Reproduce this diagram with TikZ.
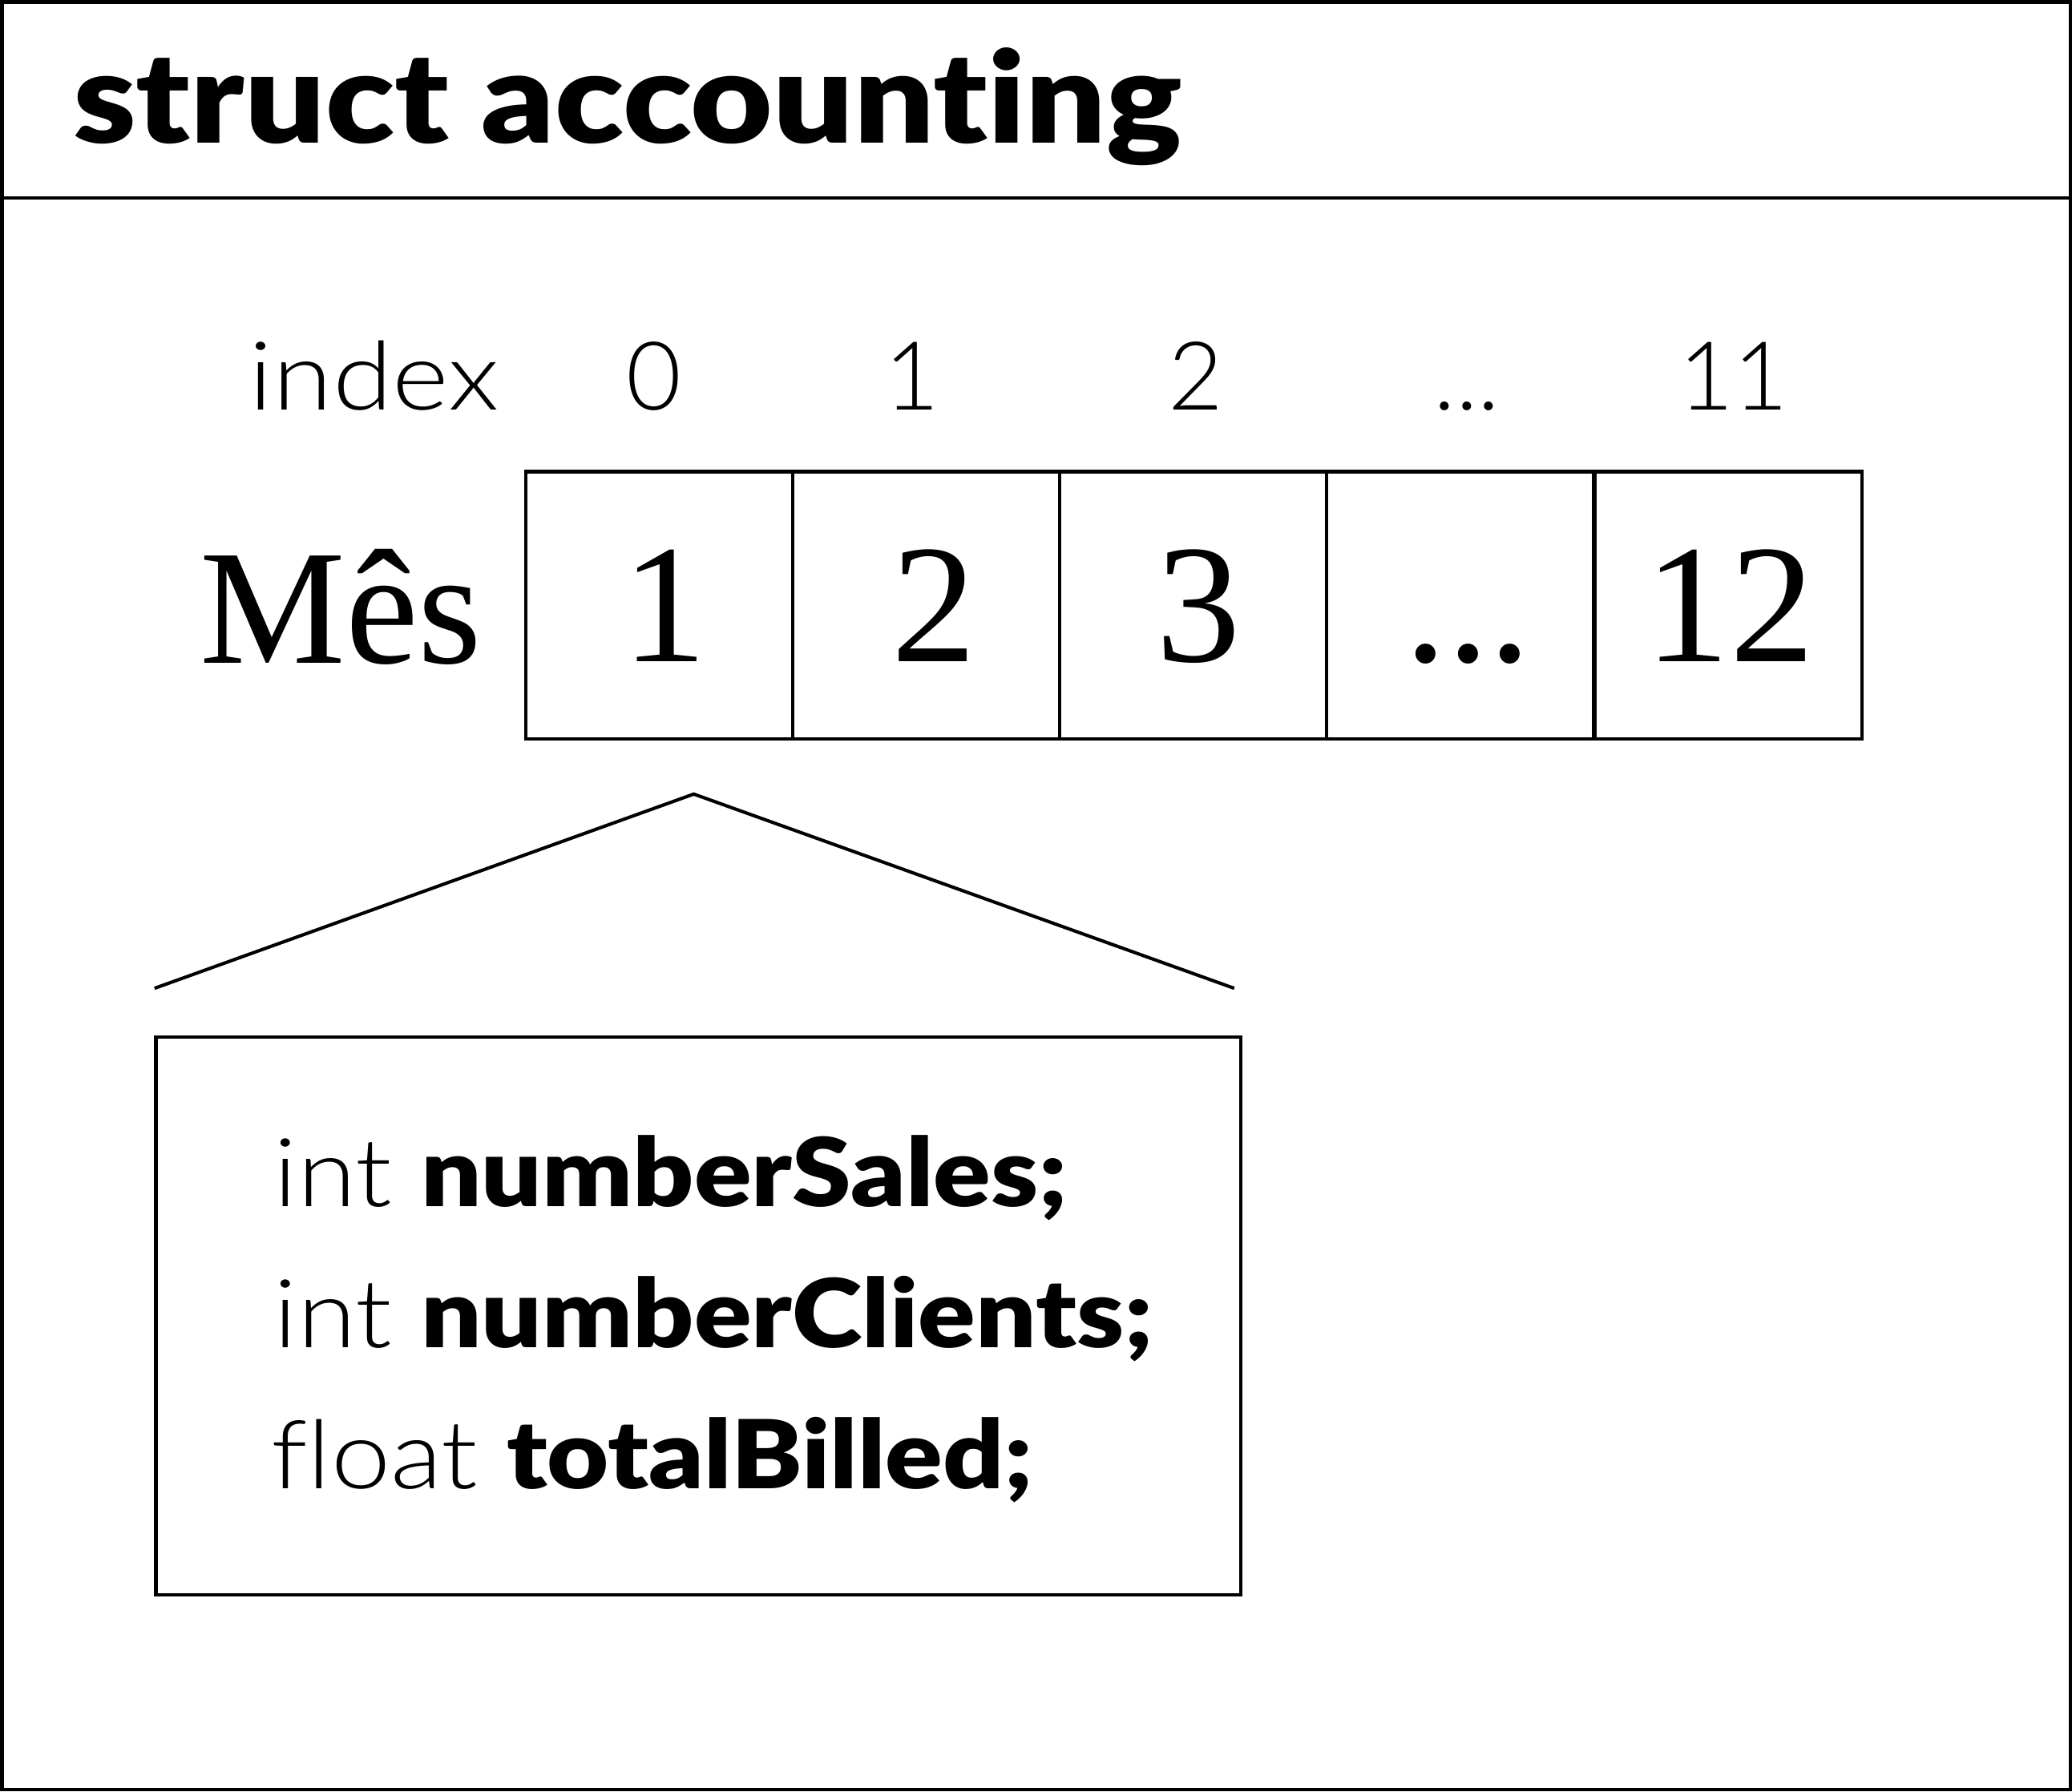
\documentclass[tikz,border=0pt]{standalone}
\usepackage{fontspec}
\setmainfont{Liberation Serif}
\newfontfamily\lightfont{Lato Light}[Ligatures={NoCommon,NoRare,NoContextual}]
\newfontfamily\heavyfont{Lato Black}[Ligatures={NoCommon,NoRare,NoContextual}]
\tikzset{
  frame/.style={draw, line width=2.5pt},
  cell/.style={draw, line width=2.5pt, minimum width=202pt, minimum height=202pt, inner sep=0pt,
    text height=86pt, text depth=0pt, font=\fontsize{128}{140}\selectfont},
  idx/.style={anchor=base, inner sep=0pt, font=\lightfont\fontsize{72}{86}\selectfont},
  member/.style={anchor=base west, inner sep=0pt, font=\lightfont\fontsize{72}{86}\selectfont},
  brace/.style={line width=2.5pt, line join=miter},
}
\begin{document}
\begin{tikzpicture}[x=1pt,y=-1pt]
\useasboundingbox (0,0) rectangle (1568,1356);
% outer frame and header
\draw[frame] (1.5,1.5) rectangle (1566.5,1354.5);
\coordinate (hl) at (0,150);
\coordinate (hr) at (1568,150);
\draw[frame] (hl) -- (hr);
\node[anchor=base west, inner sep=0pt, font=\heavyfont\fontsize{96}{106}\selectfont] (title) at (55,108) {\scalebox{1.117}[1]{struct accounting}};
% index row
\node[anchor=base east, inner sep=0pt, font=\lightfont\fontsize{72}{86}\selectfont] (index) at (378,310) {\scalebox{1.14}[1]{index}};
\node[idx] (i0) at (495,310) {0};
\node[idx] (i1) at (690,310) {1};
\node[idx] (i2) at (905,310) {2};
\node[idx] (i3) at (1110,310) {...};
\node[idx] (i4) at (1312,310) {11};
% Mes label
\node[anchor=base east, inner sep=0pt, font=\fontsize{124}{140}\selectfont] (mes) at (365,502) {Mês};
% cells
\node[cell] (c0) at (499,458) {\hspace{8pt}1};
\node[cell] (c1) at (701,458) {\hspace{12pt}2};
\node[cell] (c2) at (903,458) {\hspace{8pt}3};
\node[cell] (c3) at (1105,458) {\hspace{12pt}...};
\node[cell] (c4) at (1308,458) {\hspace{2pt}12};
% bracket
\coordinate (bl) at (117,748);
\coordinate (bt) at (525,601);
\coordinate (br) at (934,748);
\draw[brace] (bl) -- (bt) -- (br);
% struct box
\node[frame, minimum width=821pt, minimum height=422pt, inner sep=0pt] (sbox) at (528.5,996) {};
\node[member] (m1) at (207,913) {\scalebox{1.12}[1]{int {\heavyfont numberSales;}}};
\node[member] (m2) at (207,1020) {\scalebox{1.12}[1]{int {\heavyfont numberClients;}}};
\node[member] (m3) at (205,1127) {\scalebox{1.12}[1]{float {\heavyfont totalBilled;}}};
\end{tikzpicture}
\end{document}
